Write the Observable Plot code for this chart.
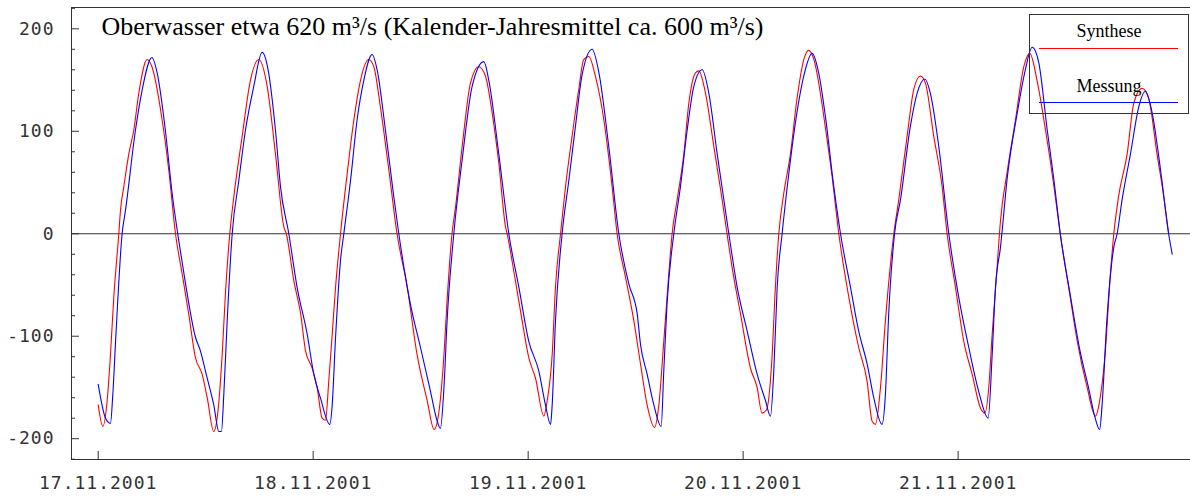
<!DOCTYPE html>
<html>
<head>
<meta charset="utf-8">
<script src="https://cdn.jsdelivr.net/npm/d3@7"></script>
<script src="https://cdn.jsdelivr.net/npm/@observablehq/plot@0.6"></script>
<style>
  html, body { margin: 0; padding: 0; background: #fff; }
  #wrap { position: relative; width: 1190px; height: 498px; overflow: hidden; }
  #legend { position: absolute; left: 1029px; top: 14px; width: 158px; height: 98px; border: 1px solid #333;
            font-family: "Liberation Serif", "Times New Roman", serif; font-size: 18px; color: #000; }
  #legend .lbl { position: absolute; left: 0; width: 100%; text-align: center; line-height: 18px; }
  #legend .ln { position: absolute; left: 9px; width: 139px; height: 0; border-top: 1px solid; }
</style>
</head>
<body>
<div id="wrap"></div>
<script>
// ---- data (hours after 17.11.2001 00:00, m³/s) ----
const title = "Oberwasser etwa 620 m³/s (Kalender-Jahresmittel ca. 600 m³/s)";
const seriesNames = ["Synthese", "Messung"];
const seriesColors = ["#ff0000", "#0000ff"];

const synHours = [0,0.52,1.0,1.37,1.74,2.3,2.49,2.86,3.42,3.97,4.53,5.46,6.0,7.14,7.88,8.63,9.37,10.1,10.86,11.6,12.17,12.9,13.28,13.84,14.2,14.66,15.14,16.07,17.0,17.93,18.86,19.79,20.72,21.0,21.84,22.6,23.14,23.88,24.44,25.0,25.37,25.74,26.1,26.5,27.05,27.8,28.54,29.29,30.2,30.77,31.5,32.45,33.36,34.5,35.6,36.73,37.5,38.0,38.6,38.95,39.5,39.89,40.63,41.56,42.49,43.23,43.98,44.72,45.47,45.65,46.58,47.33,48.07,48.82,49.75,50.12,50.68,51.05,51.61,52.17,52.9,53.65,54.2,54.77,55.5,56.45,57.37,57.93,58.86,59.8,60.54,61.28,62.1,62.59,63.14,63.7,64.07,64.63,65.38,65.93,66.68,67.05,67.8,68.73,69.66,70.2,70.77,71.7,72.81,73.56,74.1,74.6,75.2,75.6,75.98,76.53,77.28,78.0,78.77,79.3,79.9,80.8,81.19,81.93,82.68,83.8,84.9,85.84,86.4,86.77,87.33,87.88,88.82,89.37,90.3,91.05,91.8,92.35,93.28,94.21,94.77,95.7,96.63,97.56,98.49,98.98,99.42,99.8,100.3,100.73,101.5,102.4,103.33,104.0,104.8,105.76,106.7,107.4,108.34,109.3,110.4,111.33,111.8,112.4,113.0,113.38,113.9,114.87,115.6,116.54,117.3,118.2,118.96,119.5];
const synValues = [-167,-188,-163,-118,-62,0,23,46,78,101,137,170,163,111,62,0,-39,-78,-121,-137,-160,-193,-180,-118,-59,-3,36,95,150,170,144,78,7,0,-46,-78,-114,-131,-150,-180,-182,-144,-101,-52,0,59,111,150,170,163,124,62,0,-52,-118,-163,-191,-176,-118,-65,0,26,85,147,163,154,118,69,7,0,-46,-85,-121,-141,-178,-163,-118,-52,0,46,95,141,170,173,154,111,46,0,-42,-85,-127,-167,-189,-167,-105,-39,0,33,78,127,157,159,137,85,33,0,-33,-78,-131,-150,-175,-172,-124,-52,0,39,78,131,170,179,170,127,103,56,0,-62,-111,-144,-183,-186,-150,-85,0,33,95,141,154,147,95,46,0,-52,-105,-137,-170,-175,-150,-98,-39,13,62,111,163,176,150,101,46,0,-52,-105,-150,-178,-163,-118,-39,0,36,78,127,142,131,78,36,0];

const mesHours = [0,0.82,1.37,1.63,2.0,2.67,3.05,4.16,4.9,6.0,6.58,7.5,8.26,9.0,9.7,10.86,11.4,12.17,12.9,13.47,13.76,14.02,14.4,14.96,15.7,16.44,17.37,18.3,18.97,19.79,20.35,21.28,22.2,23.33,24.07,24.8,25.86,26.1,26.5,27.05,27.42,28.17,28.9,29.66,30.58,31.14,32.07,33.0,33.56,34.86,35.98,37.1,37.85,38.2,38.6,38.95,39.7,40.63,41.75,43.05,43.6,44.72,45.84,46.96,48.07,49.19,49.93,50.5,50.68,51.05,51.79,52.54,53.28,54.0,55.14,55.9,57.0,58.12,59.24,60.17,60.54,61.28,62.03,62.85,63.14,63.5,64.26,65.0,65.75,66.5,67.43,68.17,69.1,70.4,71.33,72.45,73.56,74.5,75.05,75.42,75.8,76.35,77.1,78.0,78.77,79.7,80.43,81.19,82.12,82.87,83.98,84.9,85.84,86.58,87.5,87.88,88.25,88.9,89.56,90.67,91.42,92.28,92.9,93.84,94.96,96.07,97.19,98.3,99.35,99.8,100.17,100.73,101.5,102.6,103.5,104.27,105.0,105.95,106.7,107.4,108.5,109.6,110.55,111.3,111.8,112.07,112.6,113.38,113.75,114.3,115.24,116.17,116.9,117.66,118.6,119.5,119.9];
const mesValues = [-147,-180,-185,-157,-95,0,23,101,140,172,157,101,39,-7,-46,-101,-114,-141,-167,-193,-193,-157,-85,0,52,101,144,177,160,101,46,0,-52,-98,-137,-160,-186,-170,-101,-26,0,52,111,150,175,160,101,36,0,-69,-111,-154,-183,-190,-150,-85,0,72,144,168,150,78,0,-52,-105,-134,-167,-186,-167,-85,0,52,105,154,180,157,85,0,-49,-78,-108,-137,-167,-188,-134,-69,0,46,101,144,160,137,78,0,-52,-95,-137,-163,-178,-134,-52,0,59,118,154,176,157,114,46,0,-52,-95,-127,-160,-186,-157,-78,0,33,105,137,151,137,85,0,-62,-111,-154,-180,-118,-52,-13,56,118,160,182,167,101,52,0,-59,-114,-150,-180,-191,-167,-85,-13,0,33,78,124,139,118,62,0,-20];

const xTickDays = [17, 18, 19, 20, 21];
const xTickLabels = ["17.11.2001", "18.11.2001", "19.11.2001", "20.11.2001", "21.11.2001"];
const yTicks = [-200, -100, 0, 100, 200];
const yTickLabels = ["-200", "-100", "0", "100", "200"];
const yMinorTicks = [-220,-180,-160,-140,-120,-80,-60,-40,-20,20,40,60,80,120,140,160,180,220];

// ---- build ----
const t0 = Date.UTC(2001, 10, 17);
const toDate = h => new Date(t0 + h * 3600e3);
const syn = synHours.map((h, i) => ({t: toDate(h), v: synValues[i]}));
const mes = mesHours.map((h, i) => ({t: toDate(h), v: mesValues[i]}));
const xTicks = xTickDays.map(d => new Date(Date.UTC(2001, 10, d)));
const xLabelMap = new Map(xTicks.map((d, i) => [d.getTime(), xTickLabels[i]]));
const yLabelMap = new Map(yTicks.map((v, i) => [v, yTickLabels[i]]));

const W = 1190, H = 498, mT = 7, mB = 39, mL = 71, mR = 0;
const plotW = W - mL - mR, plotH = H - mT - mB;

const chart = Plot.plot({
  width: W, height: H,
  marginTop: mT, marginBottom: mB, marginLeft: mL, marginRight: mR,
  style: {fontFamily: "'DejaVu Sans Mono', monospace", fontSize: "18px", color: "#333", background: "#fff", letterSpacing: "1px"},
  x: {type: "utc", domain: [toDate(-2.98), toDate(121.94)]},
  y: {domain: [-220.3, 220.8]},
  marks: [
    Plot.frame({stroke: "#333", insetRight: -2}),
    Plot.ruleY([0], {stroke: "#333"}),
    Plot.ruleX(xTicks, {x: d => d, insetTop: plotH - 8, stroke: "#333"}),
    Plot.ruleY(yTicks, {y: d => d, insetRight: plotW - 8, stroke: "#333"}),
    Plot.ruleY(yMinorTicks, {y: d => d, insetRight: plotW - 4, stroke: "#333"}),
    Plot.axisX(xTicks, {tickSize: 0, tickPadding: 17, label: null, tickFormat: d => xLabelMap.get(d.getTime()), fill: "#333"}),
    Plot.axisY(yTicks, {tickSize: 0, tickPadding: 17, label: null, tickFormat: d => yLabelMap.get(d), fill: "#333"}),
    Plot.line(syn, {x: "t", y: "v", stroke: seriesColors[0], strokeWidth: 1.1, curve: "monotone-x"}),
    Plot.line(mes, {x: "t", y: "v", stroke: seriesColors[1], strokeWidth: 1.1, curve: "monotone-x"}),
    Plot.text([title], {text: d => d, frameAnchor: "top-left", dx: 30, dy: 27, lineAnchor: "bottom", textAnchor: "start",
      fontFamily: "'Liberation Serif', 'Times New Roman', serif", fontSize: 26, fill: "#000"})
  ]
});
chart.querySelectorAll("g[aria-label='text'] text").forEach(t => { t.style.letterSpacing = "0px"; });
const wrap = document.getElementById("wrap");
wrap.appendChild(chart);

// legend overlay
const legend = document.createElement("div");
legend.id = "legend";
const tops = [7, 62], lineTops = [32.5, 86.5];
seriesNames.forEach((name, i) => {
  const lbl = document.createElement("div");
  lbl.className = "lbl"; lbl.style.top = tops[i] + "px"; lbl.textContent = name;
  const ln = document.createElement("div");
  ln.className = "ln"; ln.style.top = lineTops[i] + "px"; ln.style.borderTopColor = seriesColors[i];
  legend.appendChild(lbl); legend.appendChild(ln);
});
wrap.appendChild(legend);
</script>
</body>
</html>
